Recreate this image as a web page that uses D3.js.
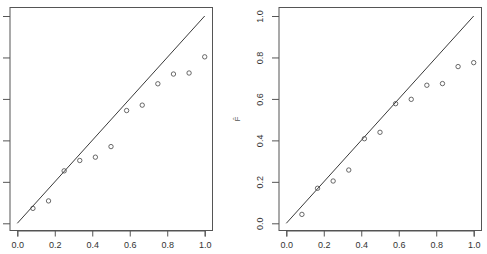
<!DOCTYPE html>
<html>
<head>
<meta charset="utf-8">
<script src="https://cdn.jsdelivr.net/npm/d3@7"></script>
<style>
  body { margin: 0; background: #fff; }
  text { font-family: "Liberation Sans", Arial, sans-serif; }
</style>
</head>
<body>
<div id="chart"></div>
<script>
// data: points at i/12, with a y = x reference line
var probs = [1,2,3,4,5,6,7,8,9,10,11,12].map(function(i){ return i/12; });
var leftVals  = [0.072, 0.108, 0.253, 0.303, 0.319, 0.370, 0.544, 0.570, 0.673, 0.720, 0.725, 0.803];
var rightVals = [0.043, 0.169, 0.204, 0.257, 0.408, 0.439, 0.577, 0.598, 0.666, 0.674, 0.756, 0.775];
var tickVals = [0, 0.2, 0.4, 0.6, 0.8, 1.0];

var svg = d3.select("#chart").append("svg")
    .attr("width", 487)
    .attr("height", 254);

function panel(vals, box, x0, x1, showYLabels, ylab){
    var x = d3.scaleLinear().domain([0,1]).range([x0, x1]);
    var y = d3.scaleLinear().domain([0,1]).range([223.3, 16]);
    var g = svg.append("g");

    g.append("rect")
        .attr("x", box[0]).attr("y", 7.5)
        .attr("width", box[1]-box[0]).attr("height", 223)
        .attr("fill", "none").attr("stroke", "#555").attr("stroke-width", 1);

    var xa = g.append("g")
        .attr("transform", "translate(0,230.5)")
        .call(d3.axisBottom(x).tickValues(tickVals).tickFormat(d3.format(".1f")).tickSize(6).tickPadding(5));
    xa.select(".domain").attr("stroke", "#555");
    xa.selectAll(".tick line").attr("stroke", "#555");
    xa.selectAll("text").attr("font-size", 9).attr("fill", "#333");

    var ya = g.append("g")
        .attr("transform", "translate(" + box[0] + ",0)")
        .call(d3.axisLeft(y).tickValues(tickVals).tickFormat(showYLabels ? d3.format(".1f") : "").tickSize(7));
    ya.select(".domain").remove();
    ya.selectAll(".tick line").attr("stroke", "#555");
    // R style: y tick labels run parallel to the axis
    ya.selectAll(".tick text")
        .attr("font-size", 9).attr("fill", "#333")
        .attr("text-anchor", "middle")
        .attr("x", 0).attr("y", 0).attr("dy", "0")
        .attr("transform", "translate(-16,0) rotate(-90)");

    g.append("line")
        .attr("x1", x(0)).attr("y1", y(0))
        .attr("x2", x(1)).attr("y2", y(1))
        .attr("stroke", "#222").attr("stroke-width", 0.9);

    g.selectAll("circle")
        .data(vals)
        .enter().append("circle")
        .attr("cx", function(d, i){ return x(probs[i]); })
        .attr("cy", function(d){ return y(d); })
        .attr("r", 2.2)
        .attr("fill", "none")
        .attr("stroke", "#444")
        .attr("stroke-width", 0.8);

    if(ylab){
        g.append("text")
            .attr("transform", "translate(" + ylab[0] + "," + ylab[1] + ") rotate(-90)")
            .attr("text-anchor", "middle")
            .attr("font-size", 8).attr("fill", "#555")
            .text("F\u0302");
    }
}

panel(leftVals, [10, 212.5], 17.3, 204.7, false, null);
panel(rightVals, [279, 481.5], 286.3, 473.7, true, [239.5, 119]);
</script>
</body>
</html>
